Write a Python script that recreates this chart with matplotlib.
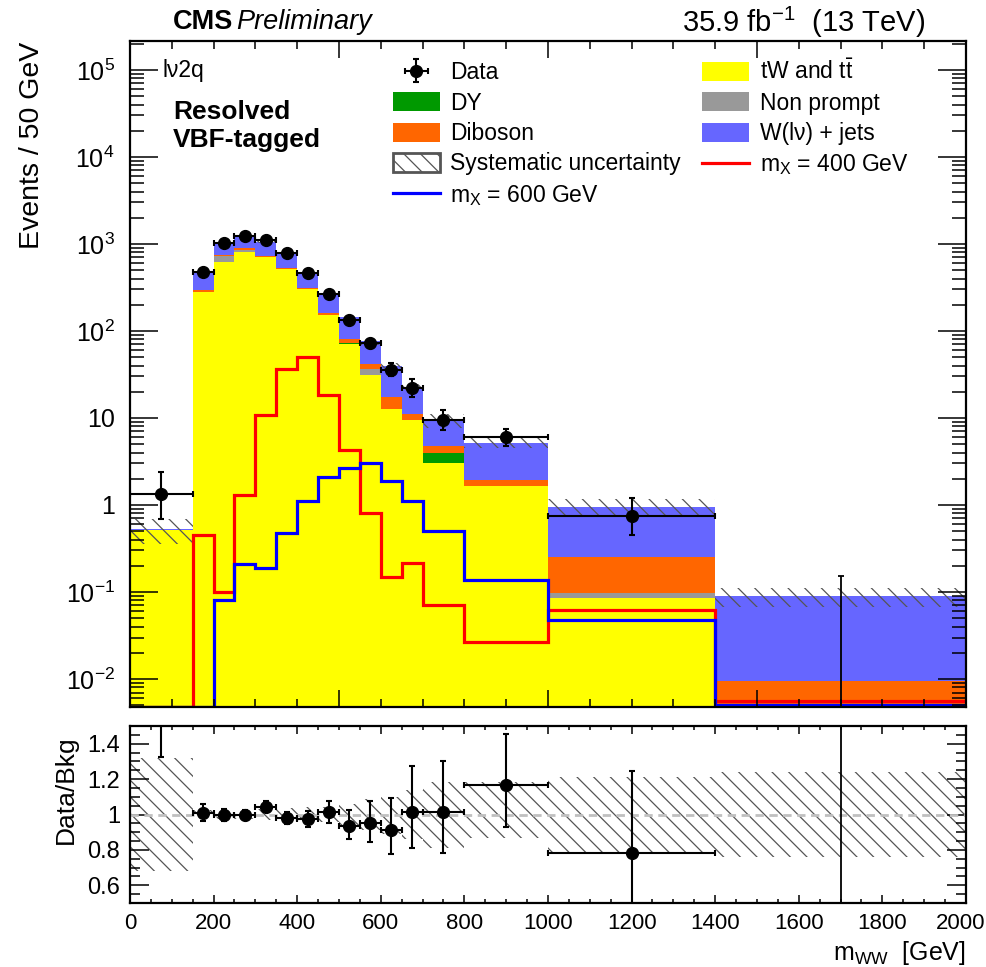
import numpy as np
import matplotlib
matplotlib.use("Agg")
import matplotlib.pyplot as plt
from matplotlib.patches import Patch
from matplotlib.lines import Line2D
from matplotlib.transforms import ScaledTranslation
from matplotlib.ticker import FixedLocator, MultipleLocator, LogLocator, NullFormatter, FixedFormatter

plt.rcParams["font.family"] = ["Liberation Sans", "DejaVu Sans"]
plt.rcParams["mathtext.fontset"] = "custom"
plt.rcParams["mathtext.rm"] = "Liberation Sans"
plt.rcParams["mathtext.it"] = "Liberation Sans:italic"
plt.rcParams["mathtext.bf"] = "Liberation Sans:bold"
plt.rcParams["mathtext.default"] = "regular"
plt.rcParams["hatch.linewidth"] = 0.9

# ---- binning (m_WW in GeV) ----
edges = np.array([0, 150, 200, 250, 300, 350, 400, 450, 500, 550, 600, 650,
                  700, 800, 1000, 1400, 2000], dtype=float)

# ---- backgrounds, events / 50 GeV ----
ttbar = np.array([0.52, 278, 617, 802, 703, 512, 301, 151, 70.3, 31.2, 12.6,
                  9.5, 3.06, 1.65, 0.0846, 0.003])
dy = np.array([0.0, 3, 4, 5, 3, 2, 1.5, 1, 2, 0.2, 0.1, 0.05, 0.87, 0.01,
               0.001, 0.0])
nonprompt = np.array([0.0, 1, 107, 40, 3, 2, 1.5, 0.5, 0.5, 4.9, 0.1, 0.05,
                      0.02, 0.01, 0.011, 0.0])
diboson = np.array([0.0, 14, 20, 55, 26, 18, 11, 7.5, 8.2, 5.5, 4.5, 1.5,
                    0.86, 0.25, 0.158, 0.0065])
wjets = np.array([0.004, 179, 274, 341, 331, 278, 157, 103, 62, 33.9, 22.1,
                  10.6, 4.55, 3.23, 0.705, 0.080])

# relative systematic uncertainty on the total background
syst_up = np.array([0.32, 0.025, 0.025, 0.025, 0.03, 0.035, 0.04, 0.045, 0.06,
                    0.085, 0.10, 0.14, 0.185, 0.185, 0.21, 0.24])
syst_dn = np.array([0.32, 0.025, 0.025, 0.025, 0.03, 0.035, 0.04, 0.045, 0.06,
                    0.085, 0.11, 0.14, 0.19, 0.134, 0.225, 0.242])

# ---- signal hypotheses ----
sig400 = np.array([0.0, 0.452, 0.101, 1.30, 10.8, 36.6, 49.9, 18.4, 4.29, 0.80,
                   0.150, 0.214, 0.071, 0.0268, 0.062, 0.0056])
sig600 = np.array([0.0, 0.0, 0.082, 0.21, 0.187, 0.472, 1.11, 2.08, 2.64, 3.01,
                   1.90, 1.11, 0.50, 0.137, 0.048, 0.0050])

# ---- data with asymmetric (Poisson) errors ----
data = np.array([1.333, 480, 1018, 1236, 1112, 795, 460, 266, 134, 72, 36, 22,
                 9.5, 6.0, 0.75, 0.0])
data_lo = np.array([0.638, 21.4, 31.4, 34.7, 32.8, 27.7, 21.0, 15.8, 11.1, 8.0,
                    5.5, 4.4, 2.15, 1.22, 0.298, 0.0])
data_hi = np.array([1.054, 22.9, 32.9, 36.2, 34.4, 29.2, 22.5, 17.3, 12.6, 9.5,
                    7.1, 5.7, 2.70, 1.48, 0.448, 0.153])

ylo, yhi = 0.00477, 2.15e5

centers = 0.5 * (edges[1:] + edges[:-1])
halfw = 0.5 * (edges[1:] - edges[:-1])

fig = plt.figure(figsize=(9.87, 9.67), dpi=100)
W, H = 987.0, 967.0
ax = fig.add_axes([130 / W, 1 - 707 / H, 836 / W, 666 / H])
rax = fig.add_axes([130 / W, 1 - 903 / H, 836 / W, 177 / H])

# ---- stacked backgrounds ----
layers = [
    ("tW and t$\\bar{t}$", ttbar, "#ffff00"),
    ("DY", dy, "#009900"),
    ("Non prompt", nonprompt, "#999999"),
    ("Diboson", diboson, "#ff6600"),
    ("W(l\u03bd) + jets", wjets, "#6666ff"),
]
cum = np.cumsum([l[1] for l in layers], axis=0)
total = cum[-1]
for i in range(len(layers) - 1, -1, -1):
    ax.stairs(cum[i], edges, baseline=ylo, fill=True,
              facecolor=layers[i][2], edgecolor="none", lw=0)

# systematic band
ax.stairs(total * (1 + syst_up), edges, baseline=total * (1 - syst_dn),
          fill=True, facecolor="none", edgecolor="#555555", hatch="\\\\", lw=0)

# signals
ax.stairs(np.maximum(sig400, ylo), edges, baseline=None, color="#ff0000", lw=2.3)
ax.stairs(np.maximum(sig600, ylo), edges, baseline=None, color="#0000ff", lw=2.3)

# data
nz = data > 0
eb = ax.errorbar(centers[nz], data[nz], xerr=halfw[nz],
                 yerr=[data_lo[nz], data_hi[nz]], fmt="o", color="black",
                 ms=8.5, lw=1.5, capsize=2.5, capthick=1.5, zorder=5)
ax.errorbar(centers[~nz], data[~nz], yerr=[data_lo[~nz], data_hi[~nz]],
            fmt="none", ecolor="black", lw=1.3, capsize=2.5, capthick=1.3,
            zorder=5)

ax.set_xlim(edges[0], edges[-1])
ax.set_yscale("log")
ax.set_ylim(ylo, yhi)
ax.xaxis.set_major_locator(MultipleLocator(500))
ax.xaxis.set_minor_locator(MultipleLocator(100))
decades = [1e-2, 1e-1, 1, 10, 1e2, 1e3, 1e4, 1e5]
ax.yaxis.set_major_locator(FixedLocator(decades))
ax.yaxis.set_major_formatter(FixedFormatter(
    ["$10^{-2}$", "$10^{-1}$", "1", "10", "$10^{2}$", "$10^{3}$", "$10^{4}$", "$10^{5}$"]))
ax.yaxis.set_minor_locator(LogLocator(base=10, subs=np.arange(2, 10), numticks=30))
ax.yaxis.set_minor_formatter(NullFormatter())
ax.tick_params(axis="both", which="both", direction="in", top=True, right=True,
               width=1.1, labelbottom=False)
ax.tick_params(axis="y", which="major", length=20, pad=11, labelsize=18)
ax.tick_params(axis="y", which="minor", length=10)
ax.tick_params(axis="x", which="major", length=12)
ax.tick_params(axis="x", which="minor", length=6)
for s in ax.spines.values():
    s.set_linewidth(1.6)

# ---- ratio panel ----
rax.stairs(1 + syst_up, edges, baseline=1 - syst_dn, fill=True,
           facecolor="none", edgecolor="#555555", hatch="\\\\", lw=0)
rax.axhline(1.0, color="#c0c0c0", ls=(0, (3, 2)), lw=2)
ratio = data / total
r_lo = data_lo / total
r_hi = data_hi / total
rax.errorbar(centers[nz], ratio[nz], xerr=halfw[nz], yerr=[r_lo[nz], r_hi[nz]],
             fmt="o", color="black", ms=8.5, lw=1.5, capsize=2.5, capthick=1.5,
             zorder=5)
rax.errorbar(centers[~nz], ratio[~nz], yerr=[r_lo[~nz], r_hi[~nz]],
             fmt="none", ecolor="black", lw=1.3, capsize=2.5, zorder=5)
rax.set_xlim(edges[0], edges[-1])
rax.set_ylim(0.5, 1.5)
rax.xaxis.set_major_locator(FixedLocator(np.arange(0, 2001, 200)))
rax.xaxis.set_minor_locator(MultipleLocator(50))
rax.yaxis.set_major_locator(FixedLocator([0.6, 0.8, 1.0, 1.2, 1.4]))
rax.yaxis.set_major_formatter(FixedFormatter(["0.6", "0.8", "1", "1.2", "1.4"]))
rax.yaxis.set_minor_locator(MultipleLocator(0.05))
rax.tick_params(axis="both", which="both", direction="in", top=True, right=True,
                width=1.1)
rax.tick_params(axis="y", which="major", length=14, pad=7, labelsize=17)
rax.tick_params(axis="y", which="minor", length=7)
rax.tick_params(axis="x", which="major", length=6, pad=7, labelsize=16)
rax.tick_params(axis="x", which="minor", length=3)
for s in rax.spines.values():
    s.set_linewidth(1.6)

# ---- legend ----
h_sys = Patch(facecolor="white", edgecolor="#555555", hatch="\\\\", lw=2)
h400 = Line2D([], [], color="#ff0000", lw=2.3)
h600 = Line2D([], [], color="#0000ff", lw=2.3)
def box(c):
    return Patch(facecolor=c, edgecolor="none")
handles = [eb, box(layers[1][2]), box(layers[3][2]), h_sys, h600,
           box(layers[0][2]), box(layers[2][2]), box(layers[4][2]), h400]
labels = ["Data", layers[1][0], layers[3][0], "Systematic uncertainty",
          "m$_{X}$ = 600 GeV", layers[0][0], layers[2][0], layers[4][0],
          "m$_{X}$ = 400 GeV"]
ax.legend(handles, labels, ncol=2, loc="upper left",
          bbox_to_anchor=(393 / W, 1 - 60 / H), bbox_transform=fig.transFigure,
          frameon=False, fontsize=16.5, handlelength=2.05, handleheight=0.9,
          handletextpad=0.45, columnspacing=0.93, labelspacing=0.32,
          borderpad=0, borderaxespad=0)

# ---- text ----
fig.text(163 / W, 1 - 70 / H, "l\u03bd2q", fontsize=16.5, ha="left", va="center")
fig.text(173 / W, 1 - 112 / H, "Resolved", fontsize=19, weight="bold",
         ha="left", va="center")
fig.text(173 / W, 1 - 140 / H, "VBF-tagged", fontsize=19, weight="bold",
         ha="left", va="center")
fig.text(173 / W, 1 - 22 / H, "CMS", fontsize=19.5, weight="bold",
         ha="left", va="center")
fig.text(236 / W, 1 - 22 / H, "Preliminary", fontsize=19.5, style="italic",
         ha="left", va="center")
fig.text(925 / W, 1 - 22 / H, "35.9 fb$^{-1}$  (13 TeV)", fontsize=21,
         ha="right", va="center")
fig.text(32 / W, 1 - 145 / H, "Events / 50 GeV", fontsize=20.5, rotation=90,
         ha="center", va="center")
fig.text(66 / W, 1 - 790 / H, "Data/Bkg", fontsize=19, rotation=90,
         ha="center", va="center")
fig.text(966 / W, 1 - 953 / H, "m$_{WW}$  [GeV]", fontsize=18,
         ha="right", va="center")

# keep the last axis label inside the canvas edge
fig.canvas.draw()
last = rax.xaxis.get_major_ticks()[-1].label1
last.set_transform(last.get_transform() +
                   ScaledTranslation(-5 / 100, 0, fig.dpi_scale_trans))

fig.savefig("out.png", dpi=100)
